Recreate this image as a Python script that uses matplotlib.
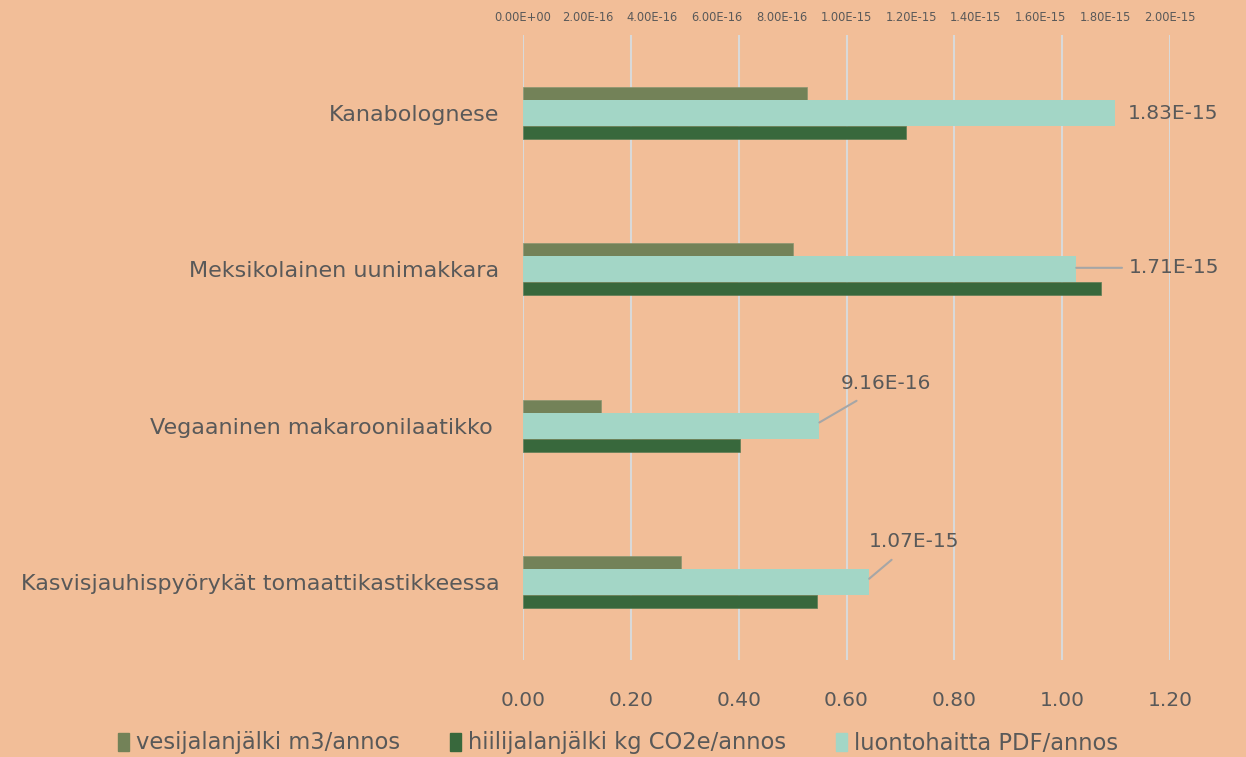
import matplotlib.pyplot as plt
import numpy as np

plt.rcParams['font.family'] = ['DejaVu Sans']

dishes = ["Kanabolognese", "Meksikolainen uunimakkara",
          "Vegaaninen makaroonilaatikko ", "Kasvisjauhispyörykät tomaattikastikkeessa"]
water = [0.527, 0.501, 0.145, 0.293]      # vesijalanjälki m3/annos
carbon = [0.711, 1.072, 0.403, 0.545]     # hiilijalanjälki kg CO2e/annos
pdf = [1.83e-15, 1.71e-15, 9.16e-16, 1.07e-15]  # luontohaitta PDF/annos
pdf_labels = ["1.83E-15", "1.71E-15", "9.16E-16", "1.07E-15"]

bottom_ticks = [0, 0.2, 0.4, 0.6, 0.8, 1.0, 1.2]
top_ticks = [i * 2e-16 for i in range(11)]
top_ticklabels = ["0.00E+00", "2.00E-16", "4.00E-16", "6.00E-16", "8.00E-16", "1.00E-15",
                  "1.20E-15", "1.40E-15", "1.60E-15", "1.80E-15", "2.00E-15"]

bg = "#F2BE98"
c_water = "#738258"
c_carbon = "#38683C"
c_pdf = "#A3D6C6"
txt = "#595959"

fig = plt.figure(figsize=(12.46, 7.57), dpi=100, facecolor=bg)
ax = fig.add_axes([523 / 1246, 1 - 660 / 757, 647 / 1246, 625 / 757])
ax.set_facecolor(bg)

y = np.arange(len(dishes))
h = 0.083
ax.barh(y - 0.125, water, height=h, color=c_water, edgecolor="#8a9670", linewidth=0.5, zorder=3)
ax.barh(y + 0.125, carbon, height=h, color=c_carbon, edgecolor="#5d7d55", linewidth=0.5, zorder=3)
ax.set_xlim(0, 1.2)
ax.set_ylim(3.5, -0.5)
ax.set_xticks(bottom_ticks)
ax.set_xticklabels([f"{t:.2f}" for t in bottom_ticks])
ax.set_yticks(y)
ax.set_yticklabels(dishes)
ax.tick_params(axis='x', length=0, labelsize=14.5, colors=txt, pad=22)
ax.tick_params(axis='y', length=0, labelsize=16, colors=txt, pad=17)
ax.grid(axis='x', color="#D9D9D9", linewidth=1.5, zorder=0)
for s in ax.spines.values():
    s.set_visible(False)

ax2 = ax.twiny()
ax2.barh(y, pdf, height=0.167, color=c_pdf, zorder=3)
ax2.set_xlim(0, 2e-15)
ax2.set_xticks(top_ticks)
ax2.set_xticklabels(top_ticklabels)
ax2.tick_params(axis='x', length=0, labelsize=8.3, colors=txt, pad=8)
for s in ax2.spines.values():
    s.set_visible(False)

offsets = [(9, 0), (38, 0), (48, 28), (32, 27)]
for i, (v, lab) in enumerate(zip(pdf, pdf_labels)):
    dx, dy = offsets[i]
    if i == 0:
        ax2.annotate(lab, (v, y[i]), xytext=(dx, dy), textcoords='offset points',
                     ha='left', va='center', fontsize=14.5, color=txt)
    elif i == 1:
        ax2.annotate(lab, (v, y[i] - 0.01), xytext=(dx, dy), textcoords='offset points',
                     ha='left', va='center', fontsize=14.5, color=txt,
                     arrowprops=dict(arrowstyle='-', color="#A6A6A6", lw=1.5, shrinkA=3, shrinkB=0))
    else:
        ax2.annotate(lab, (v, y[i] - 0.02), xytext=(dx, dy), textcoords='offset points',
                     ha='center', va='center', fontsize=14.5, color=txt,
                     arrowprops=dict(arrowstyle='-', color="#A6A6A6", lw=1.5, shrinkA=7, shrinkB=0))

handles = [plt.Rectangle((0, 0), 1, 1, color=c) for c in (c_water, c_carbon, c_pdf)]
fig.legend(handles, ["vesijalanjälki m3/annos", "hiilijalanjälki kg CO2e/annos", "luontohaitta PDF/annos"],
           loc='center', bbox_to_anchor=(0.496, 1 - 743 / 757), ncol=3, frameon=False,
           fontsize=16.3, labelcolor=txt, handlelength=0.5, handleheight=0.85, handletextpad=0.3,
           columnspacing=2.2)

fig.savefig("out.png", dpi=100, facecolor=bg)
